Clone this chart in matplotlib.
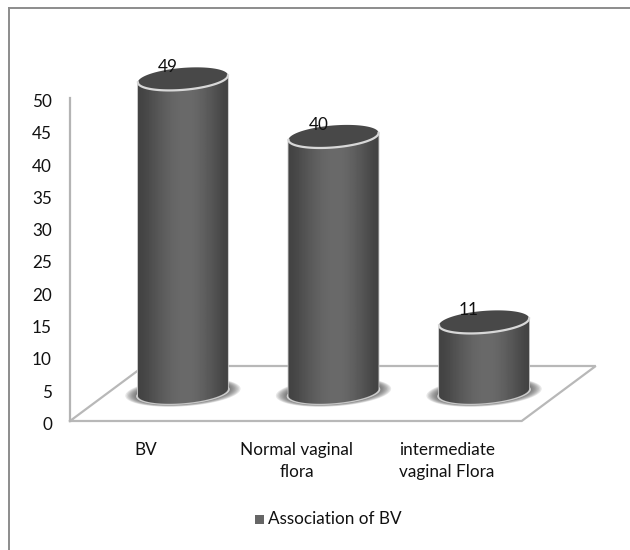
import numpy as np
import matplotlib
matplotlib.use('Agg')
import matplotlib.pyplot as plt
from matplotlib.patches import Polygon, Rectangle
from matplotlib.transforms import ScaledTranslation

categories = ['BV', 'Normal vaginal\nflora', 'intermediate\nvaginal Flora']
values = [49, 40, 11]
yticks = [0, 5, 10, 15, 20, 25, 30, 35, 40, 45, 50]
series_name = 'Association of BV'

plt.rcParams['font.family'] = ['Lato', 'DejaVu Sans']

W, H = 630, 550
fig = plt.figure(figsize=(W / 100, H / 100), dpi=100)

xunit = 150.5  # px per category
yunit = 6.46   # px per value

# plot box in pixels of the picture: x 70-597, value 0 at y 421, room above 50 for the tall bar
ymax = 60
ax = fig.add_axes([70 / W, 1 - 421 / H, 527 / W, ymax * yunit / H])
for s in ['top', 'right', 'bottom']:
    ax.spines[s].set_visible(False)
ax.spines['left'].set_color('#b4b4b4')
ax.spines['left'].set_linewidth(1.6)
ax.spines['left'].set_bounds(0, 50)
ax.set_yticks(yticks)
ax.tick_params(axis='y', length=0, pad=13, labelsize=12.3, labelcolor='#111111')
shift = ScaledTranslation(0, -2.5 / 100, fig.dpi_scale_trans)
for lab in ax.get_yticklabels():
    lab.set_transform(lab.get_transform() + shift)
# the labels sit under the front of the floor, left of the bars
ax.set_xticks([i - 37 / xunit for i in range(len(categories))])
ax.set_xticklabels(categories, fontsize=12.3, color='#111111', linespacing=1.45)
ax.tick_params(axis='x', length=0, pad=15)
ax.patch.set_alpha(0)

# floor of the fake 3d box
floor_dx = 74 / xunit
floor_dy = 55 / yunit
front_r = 2.25
floor_x = [-0.75, front_r, front_r + floor_dx, -0.75 + floor_dx, -0.75]
floor_y = [0, 0, floor_dy, floor_dy, 0]
ax.plot(floor_x, floor_y, color='#b8b8b8', lw=1.6, clip_on=False, zorder=1,
        solid_joinstyle='miter')

half_w = 45 / xunit
rad_y = 11 / yunit
tilt = 3.5 / yunit
base = 4.45
scale = 0.99

grad = np.array([0.26, 0.31, 0.35, 0.39, 0.41, 0.42, 0.40, 0.36, 0.32, 0.26])
t = np.linspace(0, 2 * np.pi, 121)


def ellipse(cx, cy, grow=1.0):
    xs = cx + grow * half_w * np.cos(t)
    ys = cy + grow * rad_y * np.sin(t) + tilt * np.cos(t)
    return np.column_stack([xs, ys])


for i, v in enumerate(values):
    top = base + v * scale

    # soft shadow on the floor
    for grow in np.linspace(1.28, 1.04, 9):
        ax.add_patch(Polygon(ellipse(i, base, grow), closed=True, fc='#4a4a4a', ec='none',
                             alpha=0.13, zorder=2, clip_on=False))
    ax.add_patch(Polygon(ellipse(i, base - 0.1, 1.04), closed=True, fc='#d4d4d4', ec='none',
                         zorder=2.5, clip_on=False))

    # body: lower half of the base ellipse, closed along the top ellipse
    tt = np.linspace(np.pi, 2 * np.pi, 60)
    low = np.column_stack([i + half_w * np.cos(tt),
                           base + rad_y * np.sin(tt) + tilt * np.cos(tt)])
    up = np.column_stack([i + half_w * np.cos(tt[::-1]),
                          top + tilt * np.cos(tt[::-1])])
    body = Polygon(np.vstack([low, up]), closed=True, fc='none', ec='#c4c4c4', lw=1.2,
                   zorder=3, clip_on=False)
    ax.add_patch(body)
    im = ax.imshow(grad[np.newaxis, :], cmap='gray', vmin=0, vmax=1, aspect='auto',
                   interpolation='bicubic', zorder=3,
                   extent=[i - half_w, i + half_w, base - rad_y - 1, top + 2])
    im.set_clip_path(body)

    # top face with the light rim
    ax.add_patch(Polygon(ellipse(i, top), closed=True, fc='#484848', ec='none', zorder=4,
                         clip_on=False))
    rim = np.linspace(np.pi, 2 * np.pi, 60)
    ax.plot(i + half_w * np.cos(rim), top + rad_y * np.sin(rim) + tilt * np.cos(rim),
            color='#d8d8d8', lw=1.6, zorder=5, clip_on=False)

    ax.text(i - 15 / xunit, top + rad_y + 0.1, str(v), ha='center', va='center', fontsize=12.3,
            color='#111111', zorder=6, clip_on=False)

ax.set_xlim(-0.75, 2.75)
ax.set_ylim(0, ymax)

# outer chart border: top and left only reach the picture
fig.add_artist(plt.Line2D([8.5 / W, 8.5 / W], [0, 1 - 7.5 / H], color='#8c8c8c', lw=1.4))
fig.add_artist(plt.Line2D([8.5 / W, 1], [1 - 7.5 / H, 1 - 7.5 / H], color='#8c8c8c', lw=1.4))

# legend
fig.add_artist(Rectangle((255 / W, 1 - 523.5 / H), 9 / W, 9 / H, fc='#666666', ec='none',
                         transform=fig.transFigure))
fig.text(268 / W, 1 - 518.5 / H, series_name, fontsize=12.3, color='#111111', va='center')

fig.savefig('out.png', dpi=100, facecolor='white')
